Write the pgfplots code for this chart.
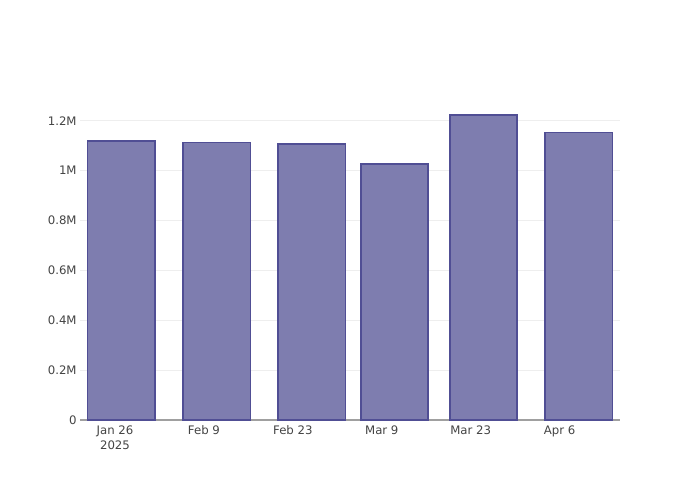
\documentclass[border=0pt]{standalone}
\usepackage{fontspec}
\setmainfont{DejaVu Sans}
\usepackage{pgfplots}
\pgfplotsset{compat=1.18}
\definecolor{barfill}{RGB}{126,125,175}
\definecolor{baredge}{RGB}{80,78,148}
\definecolor{gridc}{RGB}{238,238,238}
\definecolor{axc}{RGB}{160,160,160}
\definecolor{txt}{RGB}{68,68,68}
\begin{document}
\begin{tikzpicture}[x=1pt,y=1pt]
\path[use as bounding box] (0,0) rectangle (525,375);
\begin{axis}[
  at={(60pt,60pt)}, anchor=south west,
  scale only axis, width=405pt, height=240pt,
  xmin=-5.51, xmax=79.5, ymin=0, ymax=1.283,
  axis x line*=bottom, axis y line*=left,
  x axis line style={-, color=axc, line width=1.1pt},
  y axis line style={draw=none},
  major tick length=0pt,
  ymajorgrids, grid style={gridc, line width=0.75pt},
  xtick={0,14,28,42,56,70},
  xticklabels={{\strut Jan 26\\2025},\strut Feb 9,\strut Feb 23,\strut Mar 9,\strut Mar 23,\strut Apr 6},
  xticklabel style={align=center, font=\fontsize{8.8}{11.5}\selectfont, text=txt, yshift=1pt},
  ytick={0,0.2,0.4,0.6,0.8,1,1.2},
  yticklabels={0,0.2M,0.4M,0.6M,0.8M,1M,1.2M},
  yticklabel style={font=\fontsize{8.8}{11}\selectfont, text=txt, xshift=1pt},
  ybar, bar width=10.6,
]
\addplot[fill=barfill, draw=baredge, line width=1.15pt] coordinates {
  (1,1.119) (16,1.113) (31,1.107) (44,1.026) (58,1.222) (73,1.152)
};
\end{axis}
\end{tikzpicture}
\end{document}
